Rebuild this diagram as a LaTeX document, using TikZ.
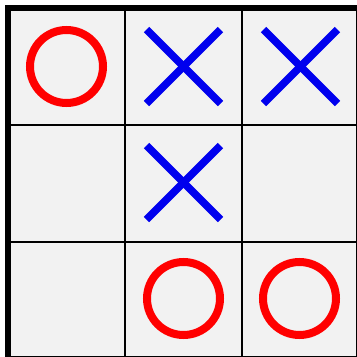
\documentclass[tikz,border=0pt]{standalone}
\usepackage{xcolor}
\usepackage{tikz}
\definecolor{cellbg}{RGB}{242,242,242}
\definecolor{ored}{RGB}{255,0,0}
\definecolor{xblue}{RGB}{0,0,238}

\begin{document}
\begin{tikzpicture}[x=1pt, y=-1pt,
  cell/.style={draw=black, line width=2.6pt, fill=cellbg},
  board/.style={draw=black, line width=6pt},
  omark/.style={draw=ored, line width=8pt},
  xmark/.style={draw=xblue, line width=7.5pt, line cap=butt}
]
  \useasboundingbox (0,0) rectangle (357,357);
  \clip (0,0) rectangle (357,357);
  % ---------------- cells ----------------
  \foreach \c in {0,1,2} {
    \foreach \r in {0,1,2} {
      \draw[cell] (8+117*\c,8+117*\r) rectangle ++(117,117);
    }
  }
  \draw[board] (8,8) rectangle (359,359);
  % ---------------- marks ----------------
  \foreach \cx/\cy in {66.5/66.5, 183.5/298.5, 299.5/298.5} {
    \draw[omark] (\cx,\cy) circle (36.5);
  }
  \foreach \cx/\cy in {183.5/66.5, 300.5/66.5, 183.5/182.5} {
    \draw[xmark] (\cx-37,\cy-37) -- (\cx+37,\cy+37);
    \draw[xmark] (\cx-37,\cy+37) -- (\cx+37,\cy-37);
  }
\end{tikzpicture}
\end{document}
